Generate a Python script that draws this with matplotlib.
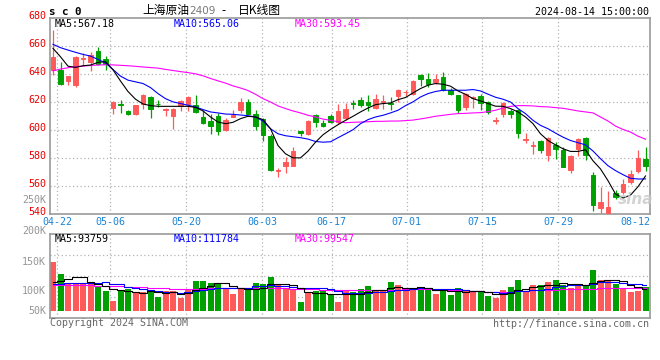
import matplotlib
matplotlib.use('Agg')
import matplotlib.pyplot as plt

# ---------------- data ----------------
opens = [643.2, 642.8, 634.9, 632.0, 650.9, 648.5, 656.6, 650.4, 616.0, 618.9,
         613.8, 611.2, 618.9, 623.9, 618.9, 614.3, 610.0, 616.9, 618.4, 618.1,
         609.3, 606.2, 610.2, 600.2, 609.0, 614.1, 620.1, 611.7, 607.9, 595.9,
         570.8, 574.6, 574.6, 599.5, 597.3, 611.0, 605.0, 610.2, 605.7, 608.8,
         619.3, 621.7, 619.8, 615.7, 620.1, 619.6, 624.1, 627.0, 626.0, 639.2,
         636.1, 634.4, 638.2, 628.4, 625.3, 616.5, 623.2, 624.6, 620.1, 606.7,
         611.2, 613.3, 614.6, 592.8, 588.9, 591.8, 581.8, 589.4, 585.9, 571.5,
         586.1, 594.5, 567.7, 544.0, 540.4, 555.0, 555.5, 562.6, 571.0, 579.4]
highs = [671.5, 648.8, 638.9, 652.8, 654.7, 655.4, 659.3, 653.1, 620.8, 621.7,
         614.1, 617.9, 625.5, 624.4, 621.2, 615.7, 615.5, 621.7, 624.4, 624.8,
         614.1, 611.7, 612.2, 608.8, 614.1, 622.9, 622.4, 614.1, 608.8, 596.8,
         572.9, 580.6, 588.2, 599.5, 606.9, 611.7, 606.9, 611.7, 618.9, 619.3,
         621.7, 623.6, 624.8, 626.0, 624.8, 623.6, 629.6, 628.4, 635.6, 639.9,
         640.4, 639.7, 641.6, 630.3, 625.3, 626.5, 624.1, 625.5, 620.8, 609.3,
         620.1, 615.3, 615.3, 598.0, 592.5, 593.0, 594.9, 591.3, 587.7, 581.8,
         594.5, 594.9, 570.1, 559.1, 556.7, 557.1, 564.8, 571.5, 585.4, 587.7]
lows = [639.2, 632.5, 632.0, 630.8, 646.4, 642.3, 646.4, 642.8, 611.2, 612.2,
        610.5, 610.5, 615.3, 608.8, 616.5, 610.0, 600.9, 613.6, 613.3, 612.2,
        604.5, 597.3, 596.1, 599.2, 609.0, 612.2, 611.2, 599.7, 592.5, 571.0,
        566.7, 569.1, 574.4, 595.4, 596.1, 602.1, 602.1, 605.0, 604.5, 607.4,
        615.3, 616.5, 613.6, 614.8, 615.3, 614.1, 620.1, 624.1, 624.8, 631.3,
        630.8, 633.2, 627.9, 624.8, 612.2, 614.6, 616.0, 614.1, 611.7, 604.5,
        609.3, 608.8, 594.5, 590.6, 583.0, 583.5, 578.2, 579.4, 573.4, 569.1,
        581.1, 578.7, 542.3, 540.6, 540.2, 550.7, 554.3, 561.4, 569.1, 570.5]
closes = [652.3, 633.2, 638.5, 651.9, 651.6, 653.8, 647.5, 647.1, 620.3, 618.1,
          611.2, 617.7, 625.3, 615.3, 618.4, 614.8, 615.3, 620.8, 623.9, 612.6,
          605.2, 602.8, 599.0, 606.9, 611.0, 620.1, 611.7, 602.6, 596.1, 571.7,
          571.3, 577.2, 584.7, 597.8, 606.2, 605.7, 602.6, 605.7, 613.6, 615.3,
          618.6, 617.7, 617.7, 622.4, 620.8, 618.9, 628.9, 627.5, 634.9, 636.3,
          633.2, 636.1, 628.4, 626.0, 614.6, 626.0, 623.6, 619.3, 612.6, 607.1,
          619.3, 611.2, 597.8, 593.7, 589.4, 585.4, 594.0, 586.6, 573.9, 581.1,
          593.7, 581.8, 546.6, 548.3, 544.7, 552.4, 561.4, 568.6, 580.1, 574.4]

ma5 = [658.3, 652.3, 645.6, 644.7, 645.9, 646.4, 648.3, 648.8, 643.0, 635.0,
       627.5, 622.0, 618.6, 617.4, 616.9, 616.9, 616.9, 616.9, 616.9, 616.2,
       613.6, 609.3, 605.7, 604.5, 605.5, 608.1, 609.8, 609.3, 607.4, 600.9,
       588.9, 583.0, 580.1, 580.1, 584.9, 591.3, 596.6, 600.4, 603.8, 606.9,
       609.8, 612.9, 615.7, 618.1, 618.9, 619.3, 621.7, 623.2, 626.5, 629.6,
       632.0, 633.2, 632.7, 631.3, 627.9, 625.5, 622.4, 620.8, 618.9, 617.0,
       616.9, 615.3, 612.9, 609.3, 604.5, 597.3, 592.5, 589.4, 586.6, 584.7,
       584.7, 585.9, 578.0, 572.2, 563.8, 554.3, 551.4, 553.5, 559.5, 567.18]
ma10 = [661.2, 658.8, 657.1, 655.5, 654.0, 652.8, 650.4, 648.0, 643.2, 638.5,
        635.6, 634.4, 633.2, 630.3, 626.0, 622.4, 620.1, 618.9, 617.7, 616.5,
        614.6, 612.9, 612.2, 611.4, 611.2, 610.7, 610.2, 609.3, 606.4, 600.9,
        597.3, 595.9, 595.2, 594.5, 593.5, 591.8, 591.3, 591.6, 594.5, 597.3,
        600.2, 604.5, 607.4, 609.3, 610.5, 612.2, 614.1, 617.4, 620.1, 623.6,
        626.0, 627.5, 628.4, 628.4, 628.4, 628.4, 628.9, 627.9, 625.6, 623.4,
        622.0, 620.0, 615.3, 611.7, 606.9, 603.3, 600.9, 597.8, 594.9, 592.5,
        590.9, 589.4, 585.0, 579.5, 574.5, 571.0, 568.1, 565.5, 565.0, 565.06]
ma30 = [642.3, 643.5, 644.5, 645.3, 645.6, 646.1, 646.4, 646.6, 646.5, 646.2,
        645.9, 645.5, 645.0, 644.6, 644.2, 643.3, 642.5, 641.7, 641.0, 640.1,
        638.7, 636.8, 635.1, 633.5, 631.5, 630.0, 628.2, 625.5, 622.4, 620.0,
        617.2, 615.3, 613.6, 612.2, 610.5, 609.3, 607.8, 606.9, 605.9, 605.2,
        605.5, 605.7, 605.9, 606.2, 606.2, 606.4, 606.4, 606.7, 607.1, 607.9,
        608.8, 609.8, 610.5, 611.2, 611.7, 611.9, 612.2, 612.4, 613.1, 614.1,
        615.7, 616.9, 617.4, 617.4, 617.2, 616.7, 616.5, 616.0, 615.5, 614.6,
        613.6, 612.9, 612.2, 609.3, 606.4, 602.8, 600.4, 598.5, 595.6, 593.45]

volumes = [210.8, 159.2, 114.8, 114.8, 114.8, 114.8, 104.8, 86.1, 43.1, 90.4,
           94.7, 80.4, 80.4, 80.4, 58.9, 86.1, 86.1, 56.0, 94.7, 129.1,
           126.3, 119.1, 119.1, 93.3, 71.8, 93.3, 93.3, 119.1, 116.2, 144.9,
           109.1, 94.7, 93.3, 37.4, 76.1, 86.1, 86.1, 68.9, 37.4, 89.0,
           80.4, 93.3, 106.2, 83.3, 83.3, 123.4, 109.1, 93.3, 89.0, 94.7,
           97.6, 71.8, 83.3, 67.5, 97.6, 89.0, 80.4, 79.0, 63.2, 54.6,
           89.0, 101.9, 132.0, 80.4, 110.5, 110.5, 123.4, 132.0, 109.1, 97.6,
           111.9, 111.9, 175.0, 132.0, 126.3, 114.8, 94.7, 80.4, 84.7, 103.3]
vma5 = [123.4, 129.1, 137.7, 143.5, 142.9, 123.7, 112.8, 107.1, 92.7, 87.8,
        83.8, 78.9, 77.8, 85.3, 79.0, 77.2, 78.4, 73.5, 76.4, 90.4,
        98.4, 105.0, 117.7, 117.4, 105.9, 99.3, 94.2, 94.2, 98.7, 113.4,
        116.5, 116.8, 111.6, 95.9, 82.1, 77.5, 75.8, 70.9, 70.9, 73.5,
        72.4, 73.8, 81.3, 90.4, 89.3, 97.9, 101.1, 98.5, 99.6, 101.9,
        96.7, 89.3, 87.3, 83.0, 83.6, 81.8, 83.6, 82.7, 81.8, 73.2,
        73.2, 77.5, 88.1, 91.6, 102.8, 107.1, 111.4, 111.4, 117.1, 114.5,
        114.8, 112.5, 121.1, 125.7, 131.4, 132.0, 128.6, 109.6, 100.2, 93.8]
vma10 = [114.8, 116.2, 117.7, 117.7, 119.1, 119.1, 120.5, 122.0, 116.0, 115.4,
         103.8, 95.9, 92.4, 89.0, 83.4, 80.5, 78.7, 75.7, 80.8, 84.7,
         87.8, 91.7, 95.6, 96.9, 98.2, 98.9, 99.6, 105.9, 108.1, 109.6,
         107.9, 105.5, 102.9, 97.3, 97.7, 97.0, 96.3, 91.3, 83.4, 77.8,
         74.9, 74.8, 76.1, 80.7, 81.4, 85.1, 87.4, 89.9, 95.0, 95.6,
         97.3, 95.2, 92.9, 91.3, 92.7, 89.3, 86.4, 85.0, 82.4, 78.4,
         77.5, 80.6, 85.4, 86.7, 88.0, 90.2, 94.5, 99.8, 104.3, 108.6,
         110.9, 111.9, 116.2, 121.4, 123.0, 123.4, 120.5, 115.4, 112.9, 111.8]
vma30 = [112, 112, 111, 111, 110, 109, 108, 107, 106, 105,
         104, 102, 100, 98, 97, 96, 95, 94, 94, 94,
         95, 96, 97, 97, 98, 98, 98, 98, 98, 98,
         97, 96, 95, 94, 93, 92, 91, 90, 89, 89,
         88, 88, 89, 90, 91, 91, 91, 92, 92, 92,
         92, 91, 91, 90, 89, 88, 86, 84, 82, 81,
         80, 81, 83, 85, 87, 88, 90, 91, 92, 92,
         93, 94, 95, 96, 97, 98, 98, 99, 99, 99.5]

date_labels = ['04-22', '05-06', '05-20', '06-03', '06-17', '07-01', '07-15', '07-29', '08-12']
price_ticks = [540, 560, 580, 600, 620, 640, 660, 680]
vol_labels = ['250K', '200K', '150K', '100K', '50K']

# ---------------- layout ----------------
W, H = 660, 360
date_pos = [0.57, 7.64, 17.77, 27.93, 37.16, 47.16, 57.24, 67.37, 77.6]
date_grid = [True] * 8 + [False]
vol_label_y = [200, 231, 262, 290.5, 310.5]

RED = '#ff5a5a'
GREEN = '#00a000'
GRID = '#b4b4b4'
SPINE = '#9a9a9a'
MONO = 'DejaVu Sans Mono'
CJK = ['Noto Sans CJK SC', 'DejaVu Sans']


def fx(x):
    return x / W


def fy(y):
    return 1 - y / H


fig = plt.figure(figsize=(6.6, 3.6), dpi=100)
fig.patch.set_facecolor('white')
ax = fig.add_axes([fx(50), fy(214), 600 / W, 196 / H])
axv = fig.add_axes([fx(50), fy(318), 600 / W, 84 / H])

n = len(closes)
xs = list(range(n))
cols = [RED if c >= o else GREEN for o, c in zip(opens, closes)]

for a in (ax, axv):
    a.set_xlim(-0.4, 79.6)
    a.set_xticks([])
    a.set_yticks([])
    for s in a.spines.values():
        s.set_color(SPINE)
        s.set_linewidth(1.2)
    for p, g in zip(date_pos, date_grid):
        if g:
            a.axvline(p, color=GRID, lw=0.9, ls=(0, (1, 2)), zorder=0)

ax.set_ylim(540, 680)
for v in price_ticks[1:-1]:
    ax.axhline(v, color=GRID, lw=0.9, ls=(0, (1, 2)), zorder=0)

# candles
ax.vlines(xs, lows, highs, colors=cols, lw=0.9, zorder=2)
bodies = [max(abs(c - o), 0.01) for o, c in zip(opens, closes)]
bottoms = [min(o, c) for o, c in zip(opens, closes)]
ax.bar(xs, bodies, bottom=bottoms, width=0.66, color=cols, edgecolor=cols,
       linewidth=0.7, zorder=3)

ax.plot(xs, ma30, color='#ff00ff', lw=0.8, zorder=4)
ax.plot(xs, ma10, color='#0000ff', lw=0.8, zorder=4)
ax.plot(xs, ma5, color='#000000', lw=0.8, zorder=4)

ax.text((636 - 50) / 600, (214 - 199) / 196, 'sina', transform=ax.transAxes,
        ha='center', va='center', fontsize=11, style='italic', weight='bold',
        color='#c8c8c8', alpha=0.8, zorder=6)

# price labels
for v in price_ticks:
    ax.annotate(str(v), xy=(0, v), xycoords=('axes fraction', 'data'),
                xytext=(-4, 2.4), textcoords='offset pixels', ha='right',
                va='center', color='#e80000', fontsize=7.2, family=MONO,
                annotation_clip=False)
# date labels
for p, lab in zip(date_pos, date_labels):
    ax.annotate(lab, xy=(p, 0), xycoords=('data', 'axes fraction'),
                xytext=(0, -8), textcoords='offset pixels', ha='center',
                va='center', color='#1a84d6', fontsize=7.2, family=MONO,
                annotation_clip=False)

# volume panel
axv.set_ylim(-31.4, 329.8)
for f in (0.25, 0.5, 0.75):
    axv.plot([0, 1], [f, f], transform=axv.transAxes, color=GRID, lw=0.9,
             ls=(0, (1, 2)), zorder=0)
axv.bar(xs, volumes, width=0.8, color=cols, linewidth=0, zorder=2)
axv.plot(xs, vma30, color='#ff00ff', lw=0.8, drawstyle='steps-mid', zorder=3)
axv.plot(xs, vma10, color='#0000ff', lw=0.8, drawstyle='steps-mid', zorder=3)
axv.plot(xs, vma5, color='#000000', lw=0.8, drawstyle='steps-mid', zorder=3)

for lab, y in zip(vol_labels, vol_label_y):
    fig.text(fx(46), fy(y), lab, ha='right', va='center', color='#959595',
             fontsize=7.2, family=MONO)

# header
fig.text(fx(49), fy(12), 's c 0', ha='left', va='center', fontsize=7.8,
         weight='bold', family=MONO, color='black')
fig.text(fx(142), fy(10.5), '上海原油', ha='left', va='center', fontsize=8.5,
         family=CJK, color='black')
fig.text(fx(189), fy(11), '2409', ha='left', va='center', fontsize=7.5,
         family='DejaVu Sans', color='#777777')
fig.text(fx(221), fy(10.5), '-', ha='left', va='center', fontsize=8.5,
         family=CJK, color='black')
fig.text(fx(238), fy(10.5), '日K线图', ha='left', va='center', fontsize=8.5,
         family=CJK, color='black')
fig.text(fx(649), fy(12), '2024-08-14 15:00:00', ha='right', va='center',
         fontsize=7.2, family=MONO, color='black')

fig.text(fx(55), fy(24), 'MA5:567.18', ha='left', va='center', fontsize=7.2,
         family=MONO, color='black')
fig.text(fx(174), fy(24), 'MA10:565.06', ha='left', va='center', fontsize=7.2,
         family=MONO, color='#0000ff')
fig.text(fx(295), fy(24), 'MA30:593.45', ha='left', va='center', fontsize=7.2,
         family=MONO, color='#ff00ff')

fig.text(fx(55), fy(238.5), 'MA5:93759', ha='left', va='center', fontsize=7.2,
         family=MONO, color='black')
fig.text(fx(174), fy(238.5), 'MA10:111784', ha='left', va='center', fontsize=7.2,
         family=MONO, color='#0000ff')
fig.text(fx(295), fy(238.5), 'MA30:99547', ha='left', va='center', fontsize=7.2,
         family=MONO, color='#ff00ff')

fig.text(fx(50), fy(323.5), 'Copyright 2024 SINA.COM', ha='left', va='center',
         fontsize=7.2, family=MONO, color='#666666')
fig.text(fx(649), fy(324), 'http://finance.sina.com.cn', ha='right', va='center',
         fontsize=7.2, family=MONO, color='#666666')

fig.savefig('out.png', dpi=100, facecolor='white')
